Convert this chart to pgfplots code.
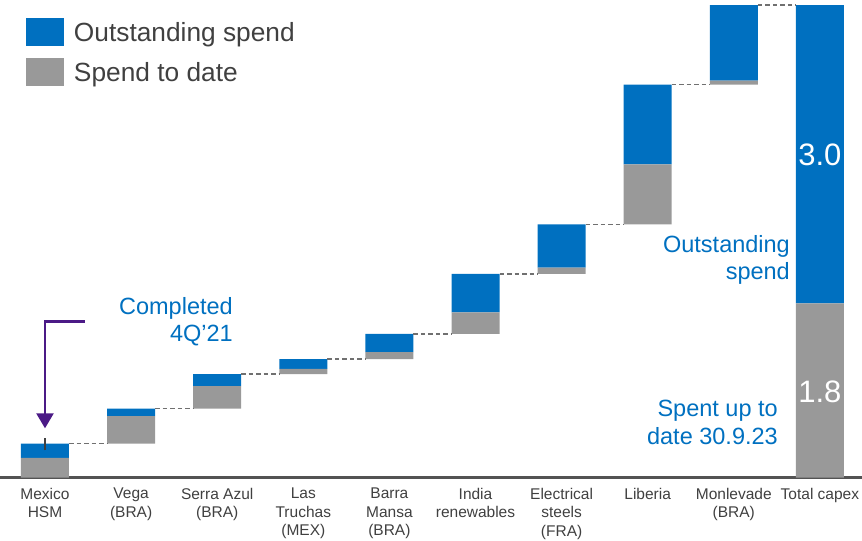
\documentclass[border=0pt]{standalone}
\usepackage{fontspec}
\setmainfont{Liberation Sans}
\usepackage{pgfplots}
\pgfplotsset{compat=1.18}
\usepackage{pgfplotstable}
\usetikzlibrary{arrows.meta}

\definecolor{outblue}{HTML}{0070C0}
\definecolor{spentgray}{HTML}{999999}
\definecolor{labgray}{HTML}{404040}
\definecolor{arrowpurple}{HTML}{4B1A86}

% waterfall: invisible base, spend to date, outstanding spend (USD bn)
\pgfplotstableread{
x base  spent outstanding
0 0     0.20  0.145
1 0.345 0.28  0.075
2 0.70  0.23  0.12
3 1.05  0.055 0.10
4 1.205 0.07  0.185
5 1.46  0.22  0.39
6 2.07  0.065 0.44
7 2.575 0.61  0.81
8 3.995 0.04  0.77
9 0     1.77  3.035
}\capex

% dashed connectors between bar tops
\pgfplotstableread{
x y
0.279 0.345
0.721 0.345
nan nan
1.279 0.70
1.721 0.70
nan nan
2.279 1.05
2.721 1.05
nan nan
3.279 1.205
3.721 1.205
nan nan
4.279 1.46
4.721 1.46
nan nan
5.279 2.07
5.721 2.07
nan nan
6.279 2.575
6.721 2.575
nan nan
7.279 3.995
7.721 3.995
nan nan
8.279 4.805
8.721 4.805
}\connectors

\pgfplotsset{
  frame/.style={
    scale only axis,
    width=862bp, height=477.5bp,
    xmin=-0.5226, xmax=9.489,
    ymin=0, ymax=4.856,
    clip=false,
  },
}

\begin{document}
\begin{tikzpicture}
\begin{axis}[
    frame,
    name=main,
    ybar stacked,
    bar width=0.5575,
    axis x line=bottom,
    axis y line=none,
    x axis line style={-, draw=labgray!90, line width=2bp},
    major tick length=0pt,
    xtick={0,...,9},
    xticklabels={{Mexico\\HSM},{Vega\\(BRA)},{Serra Azul\\(BRA)},{Las\\Truchas\\(MEX)},{Barra\\Mansa\\(BRA)},{India\\renewables},{Electrical\\steels\\(FRA)},{Liberia},{Monlevade\\(BRA)},{Total capex}},
    xticklabel style={font=\fontsize{15.5bp}{18.5bp}\selectfont, text=labgray, align=center, anchor=north, inner sep=0pt, yshift=-10.5bp},
    ytick=\empty,
    legend image code/.code={\fill[#1] (0bp,-14bp) rectangle (38bp,14bp);},
    legend style={
        draw=none, fill=none, inner sep=0pt, outer sep=0pt,
        at={(axis cs:-0.2207,4.67)}, anchor=north west,
        font=\fontsize{26.3bp}{31bp}\selectfont, text=labgray,
        row sep=12bp,
        nodes={inner sep=0pt},
        /tikz/every odd column/.append style={column sep=10bp},
    },
    legend cell align=left,
]
\addlegendimage{fill=outblue, draw=none}
\addlegendimage{fill=spentgray, draw=none}
\legend{Outstanding spend, Spend to date}
\addplot[fill=none, draw=none] table[x=x, y=base] {\capex};
\addplot[fill=spentgray, draw=none] table[x=x, y=spent] {\capex};
\addplot[fill=outblue, draw=none] table[x=x, y=outstanding] {\capex};
\end{axis}

\begin{axis}[frame, hide axis]
\addplot[labgray!75, dash pattern=on 4.5bp off 3bp, line width=1.5bp, unbounded coords=jump, mark=none] table[x=x, y=y] {\connectors};
\addplot[labgray, line width=1.4bp, mark=none] coordinates {(0,0.275) (0,0.397)};
\addplot[arrowpurple, line width=2.4bp, mark=none, -{Triangle[width=17bp,length=15bp]}] coordinates {(0.4646,1.586) (0,1.586) (0,0.50)};
\node[anchor=east, align=right, inner sep=0pt, text=outblue, font=\fontsize{23.5bp}{27bp}\selectfont] at (axis cs:2.183,1.586) {Completed\\4Q’21};
\node[anchor=east, align=right, inner sep=0pt, text=outblue, font=\fontsize{23.5bp}{27bp}\selectfont] at (axis cs:8.653,2.212) {Outstanding\\spend};
\node[anchor=east, align=right, inner sep=0pt, text=outblue, font=\fontsize{23.5bp}{28bp}\selectfont] at (axis cs:8.513,0.559) {Spent up to\\date 30.9.23};
\node[text=white, inner sep=0pt, font=\fontsize{31bp}{31bp}\selectfont] at (axis cs:9,3.285) {3.0};
\node[text=white, inner sep=0pt, font=\fontsize{31bp}{31bp}\selectfont] at (axis cs:9,0.873) {1.8};
\end{axis}
\pgfresetboundingbox
\path ([yshift=-63.5bp]main.south west) rectangle (main.north east);
\end{tikzpicture}
\end{document}
